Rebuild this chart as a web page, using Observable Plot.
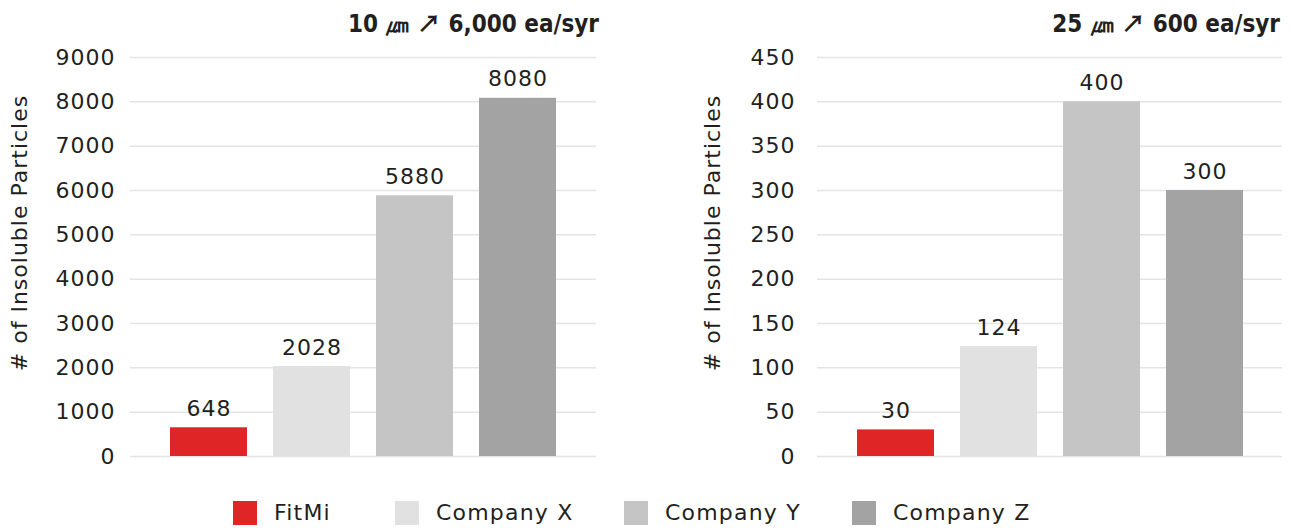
<!DOCTYPE html>
<html>
<head>
<meta charset="utf-8">
<script src="https://cdn.jsdelivr.net/npm/d3@7"></script>
<script src="https://cdn.jsdelivr.net/npm/@observablehq/plot@0.6"></script>
<style>
  html, body { margin: 0; padding: 0; background: #fff; }
  #root { position: relative; width: 1295px; height: 528px; overflow: hidden; color: #231f20; font-family: 'DejaVu Sans', sans-serif; }
  .chart { position: absolute; top: 0; }
  .title { position: absolute; top: 8px; font-family: 'DejaVu Sans Condensed', 'DejaVu Sans', sans-serif; font-weight: bold; font-size: 24px; line-height: 28px; white-space: nowrap; text-align: right; }
  .title .arr { font-family: 'Noto Sans CJK KR', 'DejaVu Sans', sans-serif; font-weight: bold; }
  .legend { position: absolute; left: 233px; top: 500px; display: grid; grid-template-columns: 162px 229px 228px auto; align-items: center; font-size: 22px; line-height: 26px; letter-spacing: 1.2px; }
  .legend .item { display: flex; align-items: center; white-space: nowrap; }
  .legend .sw { width: 24px; height: 24px; margin-right: 17px; display: inline-block; flex: none; }
</style>
</head>
<body>
<div id="root"></div>
<script>
const companies = ["FitMi", "Company X", "Company Y", "Company Z"];
const colors = ["#e02526", "#e1e1e1", "#c4c5c4", "#a3a3a3"];
const values10 = [648, 2028, 5880, 8080];
const values25 = [30, 124, 400, 300];
const ticks10 = [0, 1000, 2000, 3000, 4000, 5000, 6000, 7000, 8000, 9000];
const ticks25 = [0, 50, 100, 150, 200, 250, 300, 350, 400, 450];
const titles = ["10 \u339B \u2197 6,000 ea/syr", "25 \u339B \u2197 600 ea/syr"];
const yLabel = "# of Insoluble Particles";

const root = document.getElementById("root");

function makeChart(values, ticks, cfg) {
  const data = companies.map((c, i) => ({company: c, value: values[i]}));
  return Plot.plot({
    width: 647,
    height: 480,
    marginLeft: cfg.marginLeft,
    marginRight: cfg.marginRight,
    marginTop: 57,
    marginBottom: 24,
    style: {fontFamily: "'DejaVu Sans', sans-serif", fontSize: "22px", letterSpacing: "1px", color: "#231f20", background: "transparent", overflow: "visible"},
    x: {domain: companies, paddingInner: 0.257, paddingOuter: 0.375, axis: null},
    y: {domain: [ticks[0], ticks[ticks.length - 1]], axis: null},
    color: {domain: companies, range: colors},
    marks: [
      Plot.gridY(ticks, {stroke: "#e4e4e4", strokeOpacity: 1, strokeWidth: 1.5}),
      Plot.axisY(ticks, {tickSize: 0, tickPadding: cfg.tickPadding, label: null, fontSize: 22, tickFormat: d => String(d)}),
      Plot.barY(data, {x: "company", y: "value", fill: "company"}),
      Plot.text(data, {x: "company", y: "value", text: d => String(d.value), dy: -12, lineAnchor: "bottom", fontSize: 22, fill: "#231f20"}),
      Plot.text([yLabel], {text: d => d, frameAnchor: "left", rotate: -90, dx: cfg.labelDx, dy: -24, textAnchor: "middle", lineAnchor: "middle", fontSize: 22, fill: "#231f20"})
    ]
  });
}

const left = document.createElement("div");
left.className = "chart";
left.style.left = "0px";
left.appendChild(makeChart(values10, ticks10, {marginLeft: 130, marginRight: 51, tickPadding: 15, labelDx: -111}));
root.appendChild(left);

const right = document.createElement("div");
right.className = "chart";
right.style.left = "648px";
right.appendChild(makeChart(values25, ticks25, {marginLeft: 169, marginRight: 13, tickPadding: 22, labelDx: -105}));
root.appendChild(right);

function addTitle(text, rightEdge) {
  const t = document.createElement("div");
  t.className = "title";
  t.style.right = (1295 - rightEdge) + "px";
  text.split("\u2197").forEach((part, i) => {
    if (i > 0) {
      const a = document.createElement("span");
      a.className = "arr";
      a.textContent = "\u2197";
      t.appendChild(a);
    }
    t.appendChild(document.createTextNode(part));
  });
  root.appendChild(t);
}
addTitle(titles[0], 599);
addTitle(titles[1], 1280);

const legend = document.createElement("div");
legend.className = "legend";
companies.forEach((c, i) => {
  const item = document.createElement("div");
  item.className = "item";
  const sw = document.createElement("span");
  sw.className = "sw";
  sw.style.background = colors[i];
  const label = document.createElement("span");
  label.textContent = c;
  item.appendChild(sw);
  item.appendChild(label);
  legend.appendChild(item);
});
root.appendChild(legend);
</script>
</body>
</html>
